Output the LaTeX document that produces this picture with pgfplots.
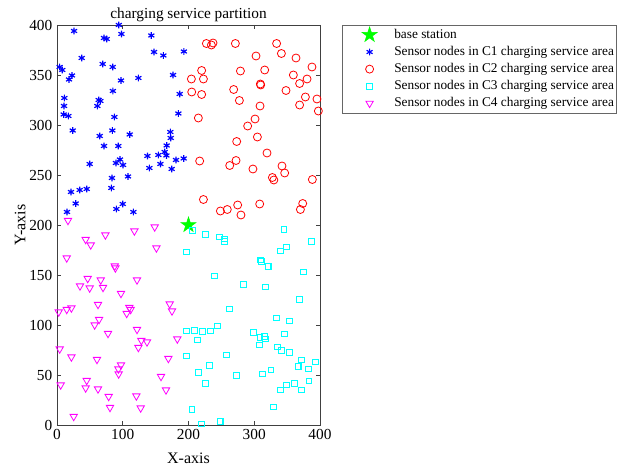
\documentclass[border=0pt]{standalone}
\usepackage{pgfplots}
\pgfplotsset{compat=1.18}
\usepackage{fontspec}
\setmainfont{Liberation Serif}
\usetikzlibrary{plotmarks}
\definecolor{mgreen}{RGB}{0,255,0}
\definecolor{mblue}{RGB}{0,0,255}
\definecolor{mred}{RGB}{255,0,0}
\definecolor{mcyan}{RGB}{0,255,255}
\definecolor{mmag}{RGB}{255,0,255}
\pgfdeclareplotmark{pentagram}{%
  \pgfpathmoveto{\pgfpointpolar{90}{\pgfplotmarksize}}%
  \pgfpathlineto{\pgfpointpolar{126}{0.382\pgfplotmarksize}}%
  \pgfpathlineto{\pgfpointpolar{162}{\pgfplotmarksize}}%
  \pgfpathlineto{\pgfpointpolar{198}{0.382\pgfplotmarksize}}%
  \pgfpathlineto{\pgfpointpolar{234}{\pgfplotmarksize}}%
  \pgfpathlineto{\pgfpointpolar{270}{0.382\pgfplotmarksize}}%
  \pgfpathlineto{\pgfpointpolar{306}{\pgfplotmarksize}}%
  \pgfpathlineto{\pgfpointpolar{342}{0.382\pgfplotmarksize}}%
  \pgfpathlineto{\pgfpointpolar{18}{\pgfplotmarksize}}%
  \pgfpathlineto{\pgfpointpolar{54}{0.382\pgfplotmarksize}}%
  \pgfpathclose
  \pgfusepathqfillstroke}
\begin{document}
\begin{tikzpicture}
\useasboundingbox (-42.75pt,-34.5pt) rectangle (421.5pt,318.75pt);
\begin{axis}[
  scale only axis, width=197.25pt, height=300pt,
  at={(0,0)}, anchor=south west,
  xmin=0, xmax=400, ymin=0, ymax=400,
  xtick={0,100,200,300,400}, ytick={0,50,100,150,200,250,300,350,400},
  xtick pos=both, ytick pos=both, tick align=inside,
  major tick length=3pt,
  axis line style={black!75},
  every tick/.style={black!75},
  /pgf/number format/assume math mode=true,
  tick label style={font=\fontsize{11.5}{13}\selectfont},
  label style={font=\fontsize{12}{14}\selectfont},
  xlabel style={yshift=-3pt},
  ylabel style={yshift=-4pt},
  title style={font=\fontsize{11.5}{13}\selectfont, yshift=-7pt},
  title={charging service partition},
  xlabel={X-axis}, ylabel={Y-axis},
  legend style={at={(1.0837,1)}, anchor=north west, draw=black!60,
    font=\fontsize{10}{12}\selectfont, inner xsep=0pt, inner ysep=1pt,
    row sep=0.4pt, cells={anchor=west}},
  legend image code/.code={\path[draw=none,fill=none] (0pt,0pt) (37pt,0pt); \draw[#1] plot[only marks] coordinates {(20.5pt,0pt)};},
]
\addplot[only marks, mark=pentagram, mark size=6pt, draw=mgreen, fill=mgreen] coordinates {(200,200)};
\addlegendentry{base station}
\addplot[only marks, mark=asterisk, mark size=2.6pt, line width=0.9pt, mblue] coordinates {
(94,400) (26,394) (71.5,387) (75.6,386) (98,391) (143.5,389.5) (37.6,367) (147.6,373)
(161.8,369.5) (193,373.5) (4,358) (8,355) (69.5,361) (84.7,358) (18.3,345.5) (22.8,349.5)
(97.3,344.5) (123.8,347) (176.5,350) (85,334) (186.6,331) (11.2,327) (10.7,319) (63.4,325)
(66,324) (61.4,319) (10.2,310.5) (17.3,309) (87.3,308) (184.6,311.5) (23.9,294.5) (84.2,294.5)
(65,289) (172.4,293) (173,287) (110.6,290.5) (71.5,279) (93.3,279) (166.8,279.5) (163.8,273)
(137.5,269) (154.2,270) (166.4,269.5) (181,265) (192.7,266.5) (95.8,265.5) (89.7,262) (100.4,260)
(49.7,261) (140.5,257) (157.3,261) (174.4,256) (108,248.5) (83.6,247) (82.7,237) (21.3,233)
(34.5,235) (45.2,236) (28.4,221.5) (100,221) (90.3,216) (116.2,213) (15.2,213)
};
\addlegendentry{Sensor nodes in C1 charging service area}
\addplot[only marks, mark=o, mark size=3pt, line width=0.6pt, mred] coordinates {
(227.2,381.5) (234.8,380) (237.3,382) (271.3,381.5) (334,381.5) (341.3,371.5) (302.7,369)
(363.5,367) (387.8,358) (220,354.5) (279,354) (315.9,355) (359.5,350) (380.3,346) (204.4,346)
(222.7,346) (369,341.5) (309.3,341) (309.8,340) (204.9,333) (220,330.5) (268.7,335.5)
(348.3,334.5) (377.8,328) (395.4,326) (277.4,324.5) (369,320) (308.8,319) (397.5,314)
(215,307) (301.2,306) (290,299) (304.8,288) (273.3,283.5) (319.4,272) (217,264) (272.3,264.5)
(262.7,259.5) (342.2,259) (298,256) (346.3,252) (327.6,247.5) (329.8,245) (388.4,245.5)
(222.7,225.5) (248.5,214) (259,215.5) (274.8,220) (279.8,210) (308.3,221) (373.7,221.5)
(370.2,215.5)
};
\addlegendentry{Sensor nodes in C2 charging service area}
\addplot[only marks, mark=square, mark size=2.2pt, line width=0.8pt, mcyan] coordinates {
(206,194.5) (225.7,190.5) (247.5,188) (255,186) (255,183.5) (345.3,195.5) (386.9,183.5)
(197.3,173) (349,178) (340.2,174) (309.8,165) (311.3,163.5) (321,158.5) (375.2,153)
(239.4,149) (283.5,140.5) (316.9,138) (368.7,125.5) (262.7,116) (333.7,107) (353.5,104)
(244.4,99) (197.3,94) (209.4,94.5) (221.1,93.5) (233.8,94) (299.2,92.5) (345.9,91)
(308.8,87.5) (315.4,88.5) (316.9,86) (214,85) (308.3,80) (335.2,78) (341.8,74.5) (353.9,72.5)
(197.3,69) (258.1,70) (372.2,65) (393.5,63) (232.2,59.5) (366.6,58.5) (382.8,56) (325.5,55)
(215.5,52.5) (312.4,51) (273.3,49.5) (226.2,41.5) (349,40) (361,41.5) (383.3,44) (339.8,35)
(372.2,35) (205.3,15.5) (329.6,18) (248,3.5) (220,1)
};
\addlegendentry{Sensor nodes in C3 charging service area}
\addplot[only marks, mark=triangle, mark options={rotate=180}, mark size=3.2pt, line width=0.6pt, mmag] coordinates {
(16.7,204.5) (148.6,198) (73.6,190) (117.7,194) (43.6,185.5) (51.3,180) (151.2,177) (14.8,167)
(87.8,159) (88.8,157) (46.7,146.5) (66.5,145) (121.7,145) (35,139) (49.7,137) (70,137.5)
(97.3,131.5) (171.4,121) (174.9,114) (62.4,120.5) (2.6,113) (14.8,115.5) (21.9,117) (110,117.5)
(112,115.5) (106,111.5) (64,105.5) (57.3,100) (77.6,91.5) (121.7,95.5) (128.3,84.5) (136.9,83)
(123.8,77.5) (183,86) (4.1,76) (21.9,68) (60.8,65.5) (169.4,66.5) (97.3,60) (93.4,56) (93.8,51)
(158.2,48.5) (45.2,44.5) (5.6,40) (43.6,37) (62.4,36) (165.8,35) (78.6,28.5) (120.7,29)
(80.6,17.5) (127.3,17) (25.4,8.5)
};
\addlegendentry{Sensor nodes in C4 charging service area}
\end{axis}
\end{tikzpicture}
\end{document}
